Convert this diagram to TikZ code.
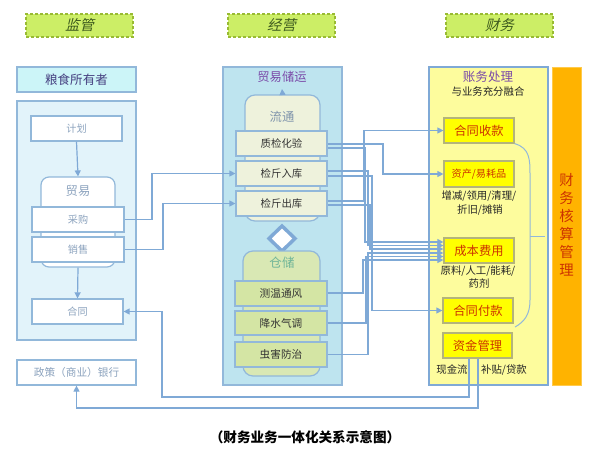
\documentclass[tikz,border=0pt]{standalone}
\usepackage{fontspec}
\setmainfont{Noto Sans CJK SC}
\newfontfamily\cjkit{Noto Sans CJK SC}[FakeSlant=0.25]
\usetikzlibrary{arrows.meta,fit}
\definecolor{hdrf}{HTML}{CCEE66}
\definecolor{hdrb}{HTML}{99BB33}
\definecolor{hdrt}{HTML}{3D5A1E}
\definecolor{lnc}{HTML}{7FA9D6}
\definecolor{bdr}{HTML}{92B8DA}
\definecolor{lpan}{HTML}{E2F3FA}
\definecolor{ownf}{HTML}{CCF5F8}
\definecolor{mpan}{HTML}{BEE4EF}
\definecolor{ltf}{HTML}{EEF2DC}
\definecolor{ccf}{HTML}{D9E8B4}
\definecolor{ccb}{HTML}{D4E5A4}
\definecolor{rpan}{HTML}{FDFC9D}
\definecolor{ylw}{HTML}{FFFF00}
\definecolor{ylb}{HTML}{B4B47A}
\definecolor{org}{HTML}{FFB300}
\definecolor{redt}{HTML}{CC3300}
\definecolor{purp}{HTML}{7A4AA8}
\definecolor{graybl}{HTML}{8CA3BE}
\definecolor{ownt}{HTML}{454080}
% #1 style, #2 name, #3 corner, #4 corner, #5 text
\newcommand\bx[5]{%
  \node[#1, fit={#3 #4}] (#2) {};
  \node[#1, draw=none, fill=none, inner sep=0] (#2t) at (#2.center) {#5};}
\begin{document}
\begin{tikzpicture}[x=0.75pt,y=-0.75pt,
  fs/.style={font=\fontsize{#1}{#1}\selectfont},
  hdr/.style={draw=hdrb, fill=hdrf, dashed, dash pattern=on 2.25pt off 1.5pt, line width=1.35pt, inner sep=0, text=hdrt, font=\cjkit\fontsize{10.7}{12}\selectfont},
  wbox/.style={draw=bdr, fill=white, line width=0.9pt, inner sep=0, text=graybl, fs=7.6},
  gbox/.style={draw=bdr, fill=ltf, line width=0.9pt, inner sep=0, text=black!80, fs=7.8},
  cbox/.style={draw=bdr, fill=ccb, line width=0.9pt, inner sep=0, text=black!80, fs=8},
  ybox/.style={draw=ylb, fill=ylw, line width=0.9pt, inner sep=0, text=redt, fs=9.2},
  ownbox/.style={draw=bdr, fill=ownf, line width=1.05pt, inner sep=0, text=ownt, fs=9.4},
  conn/.style={draw=lnc, line width=0.9pt},
  arr/.style={conn, -{Triangle[length=4.5pt,width=4.5pt]}},
  small/.style={fs=7.8, text=black!85}
]
\useasboundingbox[fill=white] (0,0) rectangle (598,453);

% headers
\bx{hdr}{jg}{(26,14)}{(133,37)}{监管}
\bx{hdr}{jy}{(228,14)}{(335,37)}{经营}
\bx{hdr}{cw}{(446,14)}{(553,37)}{财务}

% left column
\bx{ownbox}{owner}{(17,67)}{(136,92)}{粮食所有者}
\node[draw=bdr, fill=lpan, line width=1.05pt, inner sep=0, fit={(17,101) (136,340)}] (lpanel) {};
\bx{wbox}{jihua}{(31,116)}{(122,141)}{计划}
\node[draw=bdr, fill=white, line width=0.9pt, rounded corners=6pt, inner sep=0, fit={(41,177) (115,267)}] (maoyi) {};
\node[text=graybl, fs=9.2] (maoyit) at (78,191) {贸易};
\bx{wbox}{caigou}{(32,207)}{(124,232)}{采购}
\bx{wbox}{xiaoshou}{(32,237)}{(124,262)}{销售}
\bx{wbox}{hetong}{(32,299)}{(123,324)}{合同}
\bx{wbox,fs=8}{bank}{(17,360)}{(136,385)}{政策（商业）银行}

% middle column
\node[draw=bdr, fill=mpan, line width=1.05pt, inner sep=0, fit={(223,67) (342,385)}] (mpanel) {};
\node[text=purp, fs=9.2] (mtitle) at (282,77) {贸易储运};
\node[draw=bdr, fill=ltf, line width=0.9pt, rounded corners=7.5pt, inner sep=0, fit={(245,95) (320,221)}] (liutong) {};
\node[text=graybl!90!black, fs=9.2] (liutongt) at (282,117) {流通};
\bx{gbox}{zhijian}{(236,131)}{(327,156)}{质检化验}
\bx{gbox}{ruku}{(236,161)}{(327,186)}{检斤入库}
\bx{gbox}{chuku}{(236,191)}{(327,216)}{检斤出库}
\coordinate (ltop) at (282,89);
\draw[arr] (liutong.north) -- (ltop);
\draw[draw=lnc, fill=white, line width=2.6pt, line join=miter] (282,226) -- (295,238.5) -- (282,251) -- (269,238.5) -- cycle;
\node[draw=bdr, fill=ccf, line width=0.9pt, rounded corners=7.5pt, inner sep=0, fit={(243,251) (320,376)}] (cangchu) {};
\node[text=graybl!80!green, fs=9.4] (cangchut) at (282,263) {仓储};
\bx{cbox}{cewen}{(235,281)}{(327,306)}{测温通风}
\bx{cbox}{jiangshui}{(235,311)}{(327,335)}{降水气调}
\bx{cbox}{chonghai}{(235,342)}{(327,367)}{虫害防治}

% right column
\node[draw=lnc, fill=rpan, line width=1.65pt, inner sep=0, fit={(429,67) (548,385)}] (rpanel) {};
\node[text=purp, fs=9.4] (rtitle) at (488,77) {账务处理};
\node[small] (rsub) at (488,92) {与业务充分融合};
\bx{ybox}{shoukuan}{(444,118)}{(514,143)}{合同收款}
\bx{ybox,fs=7.6}{zichan}{(444,161)}{(514,187)}{资产/易耗品}
\node[small] (zc1) at (479,196) {增减/领用/清理/};
\node[small] (zc2) at (480,210) {折旧/摊销};
\bx{ybox}{chengben}{(444,238)}{(514,263)}{成本费用}
\node[small] (cb1) at (478,271) {原料/人工/能耗/};
\node[small] (cb2) at (479,284) {药剂};
\bx{ybox}{fukuan}{(443,298)}{(513,323)}{合同付款}
\bx{ybox}{zijin}{(443,333)}{(512,358)}{资金管理}
\node[small] (xjl) at (452,370) {现金流};
\node[small] (btdk) at (504,370) {补贴/贷款};
\draw[draw=bdr, line width=0.75pt] (shoukuan.south east) .. controls (530,148) and (530,160) .. (530,175) -- (530,300) .. controls (530,315) and (524,322) .. (515,327);
\draw[draw=bdr, line width=0.75pt] (530,236) -- (545,236);
\node[draw=org!70!white, fill=org, line width=0.75pt, inner sep=0, fit={(552,67) (581,385)}] (hesuan) {};
\node[text=redt, align=center, font=\fontsize{10.8}{13.5}\selectfont] (hesuant) at (566.5,225) {财\\务\\核\\算\\管\\理};

% caption
\node[font=\bfseries\fontsize{10.2}{12}\selectfont] (cap) at (305,437) {（财务业务一体化关系示意图）};

% left connectors
\draw[arr] (jihua.south) -- (maoyi.north);
\draw[arr] (maoyi.south) -- (hetong.north);
\draw[arr] (caigou.east) -- (152,219.5) -- (152,173.5) -- (ruku.west);
\draw[arr] (xiaoshou.east) -- (163,249.5) -- (163,203.5) -- (chuku.west);
\draw[arr] (zijin.south) ++(-8.5,0) -- (469,397) -- (162,397) -- (162,311.5) -- (hetong.east);
\draw[arr] (zijin.south) ++(0.5,0) -- (478,408) -- (76.5,408) -- (bank.south);

% middle connectors
\draw[arr] (zhijian.east) ++(0,0.5) -- (383,144) -- (383,174) -- (zichan.west);
\draw[arr] (zhijian.east) ++(0,4.5) -- (365,148) -- (365,242) -- (chengben.west |- 0,242);
\draw[arr] (ruku.east) ++(0,-2.5) -- (368,171) -- (368,245.5) -- (chengben.west |- 0,245.5);
\draw[arr] (ruku.east) ++(0,2.5) -- (372,176) -- (372,310.5) -- (fukuan.west);
\draw[arr] (chuku.east) ++(0,-2.5) -- (364,201) -- (364,130.5) -- (shoukuan.west);
\draw[arr] (chuku.east) ++(0,1.5) -- (370,205) -- (370,249) -- (chengben.west |- 0,249);
\draw[arr] (cewen.east) ++(0,-0.5) -- (363,293) -- (363,260) -- (chengben.west |- 0,260);
\draw[arr] (jiangshui.east) ++(0,0) -- (366,323) -- (366,256.5) -- (chengben.west |- 0,256.5);
\draw[arr] (chonghai.east) ++(0,0) -- (368,354.5) -- (368,253) -- (chengben.west |- 0,253);
\end{tikzpicture}
\end{document}
